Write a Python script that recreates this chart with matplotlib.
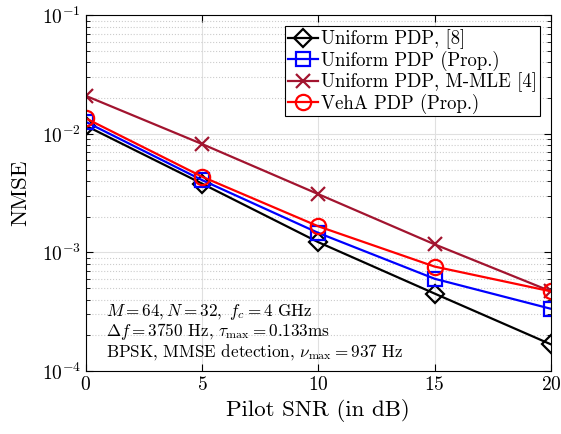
import numpy as np
import matplotlib
matplotlib.use("Agg")
import matplotlib.pyplot as plt

plt.rcParams['font.family'] = 'serif'
plt.rcParams['font.serif'] = ['cmr10']
plt.rcParams['mathtext.fontset'] = 'cm'
plt.rcParams['axes.formatter.use_mathtext'] = True

# pilot SNR (dB) and NMSE values
snr = [0, 5, 10, 15, 20]
nmse_unif_ref8 = [1.17e-2, 3.8e-3, 1.22e-3, 4.5e-4, 1.68e-4]
nmse_unif_prop = [1.26e-2, 4.07e-3, 1.46e-3, 6.0e-4, 3.35e-4]
nmse_unif_mmle = [2.09e-2, 8.2e-3, 3.1e-3, 1.17e-3, 4.7e-4]
nmse_veha_prop = [1.35e-2, 4.35e-3, 1.66e-3, 7.6e-4, 4.7e-4]

labels = ['Uniform PDP, [8]', 'Uniform PDP (Prop.)',
          'Uniform PDP, M-MLE [4]', 'VehA PDP (Prop.)']

fig = plt.figure(figsize=(5.61, 4.34), dpi=100)
ax = fig.add_axes([0.153, 0.145, 0.829, 0.82])

ax.semilogy(snr, nmse_unif_ref8, '-D', color='k', lw=1.6, ms=9,
            mfc='none', mew=1.6, label=labels[0])
ax.semilogy(snr, nmse_unif_prop, '-s', color='b', lw=1.6, ms=10,
            mfc='none', mew=1.6, label=labels[1])
ax.semilogy(snr, nmse_unif_mmle, '-x', color=(0.635, 0.078, 0.184), lw=1.6,
            ms=10, mew=1.6, label=labels[2])
ax.semilogy(snr, nmse_veha_prop, '-o', color='r', lw=1.6, ms=11,
            mfc='none', mew=1.6, label=labels[3])

ax.set_xlim(0, 20)
ax.set_ylim(1e-4, 1e-1)
ax.set_xticks([0, 5, 10, 15, 20])
ax.grid(True, which='major', color='#e0e0e0', lw=0.8)
ax.grid(True, which='minor', axis='y', color='#cccccc', ls=':', lw=0.8)
ax.tick_params(which='both', direction='in', top=True, right=True, labelsize=14)
ax.tick_params(which='major', length=5)
ax.tick_params(which='minor', length=3)
ax.set_xlabel('Pilot SNR (in dB)', fontsize=16.5)
ax.set_ylabel('NMSE', fontsize=16.5, labelpad=8)

leg = ax.legend(loc='upper right', fontsize=13.5, fancybox=False, framealpha=1,
                edgecolor='k', borderpad=0.15, labelspacing=0.08,
                handlelength=1.6, handletextpad=0.15, borderaxespad=0.6)
leg.get_frame().set_linewidth(0.8)

ax.text(0.043, 0.154, r'$M=64, N=32,\ f_c=4$ GHz', transform=ax.transAxes,
        fontsize=12.3, va='baseline')
ax.text(0.043, 0.098, r'$\Delta f=3750$ Hz, $\tau_{\max}=0.133$ms', transform=ax.transAxes,
        fontsize=12.3, va='baseline')
ax.text(0.043, 0.042, r'BPSK, MMSE detection, $\nu_{\max}=937$ Hz', transform=ax.transAxes,
        fontsize=12.3, va='baseline')

fig.savefig('out.png', dpi=100)
